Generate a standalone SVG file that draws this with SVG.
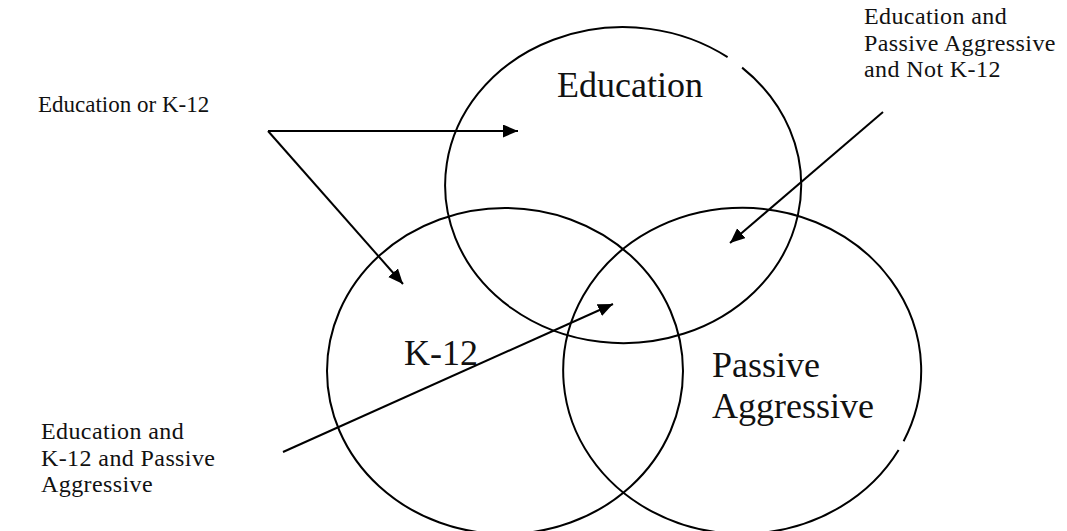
<svg xmlns="http://www.w3.org/2000/svg" width="1067" height="531" viewBox="0 0 1067 531">
<style>
.shape{fill:none;stroke:#000;stroke-width:2}
.conn{fill:none;stroke:#000;stroke-width:2}
.ttl{font-family:"Liberation Serif","Times New Roman",serif;font-size:36px;fill:#111}
.lbl{font-family:"Liberation Serif","Times New Roman",serif;font-size:23px;fill:#111}
.lbl2{font-family:"Liberation Serif","Times New Roman",serif;font-size:24px;letter-spacing:0.4px;fill:#111}
</style>
<defs>
<marker id="arrow" markerUnits="userSpaceOnUse" markerWidth="16" markerHeight="14" refX="15" refY="6.5" orient="auto">
<path d="M0,0 L15,6.5 L0,13 z" fill="#000"/>
</marker>
</defs>
<rect width="1067" height="531" fill="#fff"/>
<g id="education">
<path class="shape" d="M742.1 67.6 A178 158 0 1 1 727.6 57.2"/>
<text class="ttl" x="557" y="97">Education</text>
</g>
<g id="k12">
<ellipse class="shape" cx="505" cy="371" rx="178" ry="163"/>
<text class="ttl" x="404" y="365">K-12</text>
</g>
<g id="passive">
<path class="shape" d="M898.6 450 A179 163 0 1 1 903.6 441.2"/>
<text class="ttl" x="712" y="377">Passive</text>
<text class="ttl" x="712" y="418">Aggressive</text>
</g>
<g id="label-or" font-family="Liberation Serif, serif">
<text class="lbl" x="38" y="112">Education or K-12</text>
</g>
<g id="label-ed-pa" font-family="Liberation Serif, serif">
<text class="lbl2" x="864" y="24">Education and</text>
<text class="lbl2" x="864" y="50.5">Passive Aggressive</text>
<text class="lbl2" x="864" y="77">and Not K-12</text>
</g>
<g id="label-all" font-family="Liberation Serif, serif">
<text class="lbl2" x="41" y="439">Education and</text>
<text class="lbl2" x="41" y="465.5">K-12 and Passive</text>
<text class="lbl2" x="41" y="492">Aggressive</text>
</g>
<g id="connectors">
<line class="conn" x1="268" y1="131" x2="518" y2="131" marker-end="url(#arrow)"/>
<line class="conn" x1="268" y1="131" x2="403" y2="284" marker-end="url(#arrow)"/>
<line class="conn" x1="283" y1="452" x2="613" y2="304" marker-end="url(#arrow)"/>
<line class="conn" x1="883" y1="112" x2="730" y2="243" marker-end="url(#arrow)"/>
</g>
</svg>
